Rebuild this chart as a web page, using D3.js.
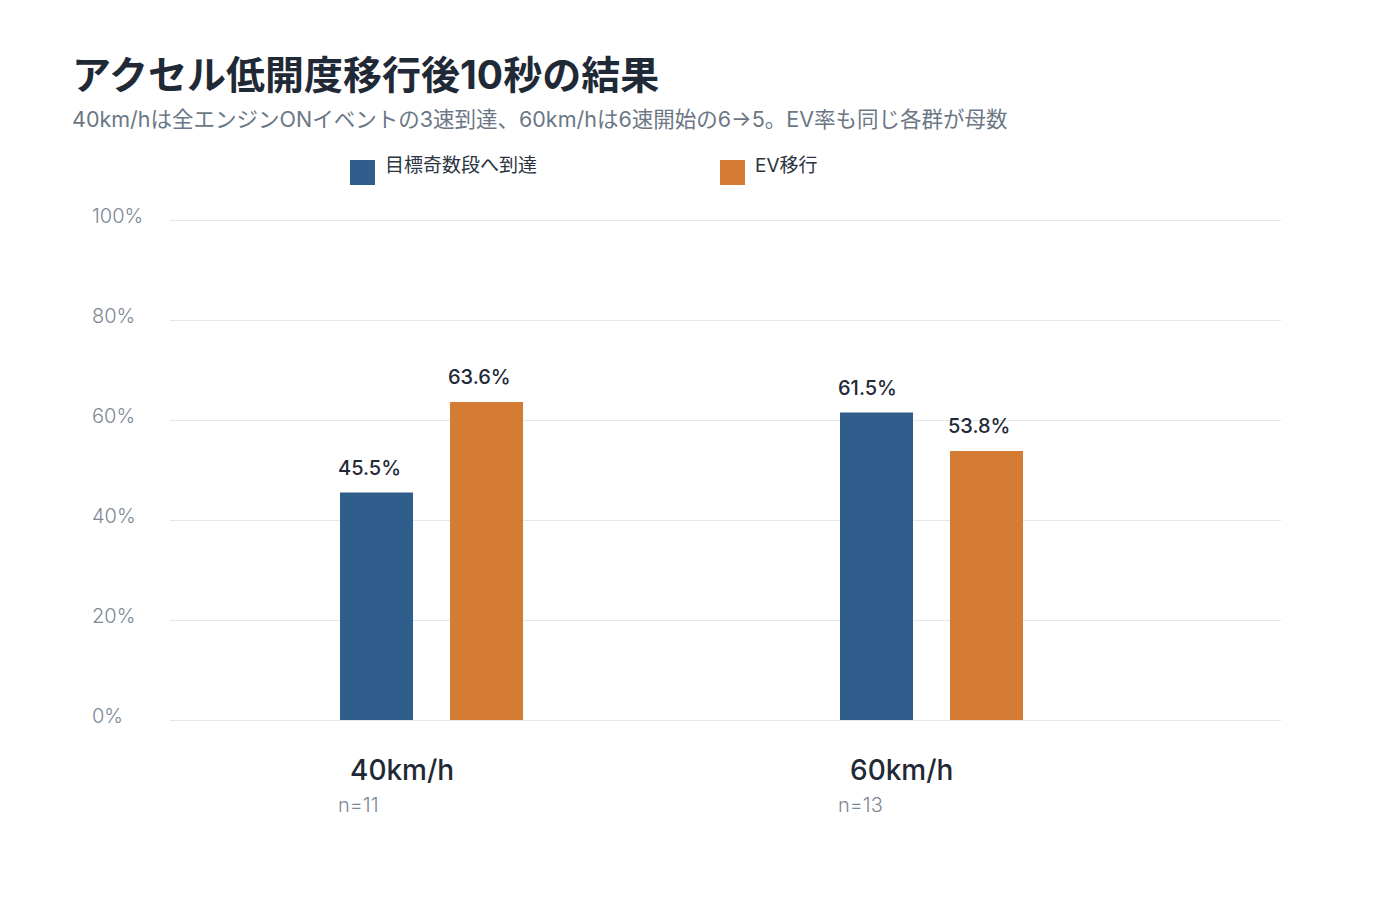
<!DOCTYPE html>
<html lang="ja">
<head>
<meta charset="utf-8">
<title>アクセル低開度移行後10秒の結果</title>
<script src="https://cdn.jsdelivr.net/npm/d3@7"></script>
<style>
  body { margin: 0; background: #fff; font-family: Inter, "Noto Sans CJK JP", sans-serif; }
  svg text { font-family: Inter, "Noto Sans CJK JP", sans-serif; }
</style>
</head>
<body>
<div id="chart"></div>
<script>
// Data
const categories = ["40km/h", "60km/h"];
const sampleSizes = ["n=11", "n=13"];
const seriesNames = ["目標奇数段へ到達", "EV移行"];
const reachValues = [45.5, 61.5];
const evValues = [63.6, 53.8];
const yTicks = [0, 20, 40, 60, 80, 100];

const TITLE = "アクセル低開度移行後10秒の結果";
const SUBTITLE = "40km/hは全エンジンONイベントの3速到達、60km/hは6速開始の6→5。EV率も同じ各群が母数";

const colors = ["#2f5e8c", "#d47b34"];

const width = 1400, height = 900;
const plot = {left: 170, right: 1281, top: 220, bottom: 720};

const svg = d3.select("#chart")
  .append("svg")
  .attr("width", width)
  .attr("height", height);

// title + subtitle
svg.append("text")
  .attr("x", 72).attr("y", 89)
  .attr("font-size", 39).attr("font-weight", 700)
  .attr("fill", "#1f2a36")
  .text(TITLE);

svg.append("text")
  .attr("x", 72).attr("y", 127)
  .attr("font-size", 21.5)
  .attr("fill", "#6b7785")
  .text(SUBTITLE);

// legend
const legendX = [350, 720];
seriesNames.forEach((name, i) => {
  svg.append("rect")
    .attr("x", legendX[i]).attr("y", 160)
    .attr("width", 25).attr("height", 25)
    .attr("fill", colors[i]);
  svg.append("text")
    .attr("x", legendX[i] + 35).attr("y", 167)
    .attr("dominant-baseline", "middle")
    .attr("font-size", 19)
    .attr("fill", "#2b3440")
    .text(name);
});

// scales
const y = d3.scaleLinear()
  .domain([0, 100])
  .range([plot.bottom, plot.top]);

const x0 = d3.scaleBand()
  .domain(categories)
  .range([181.5, 1181.5])
  .paddingInner(0)
  .paddingOuter(0);

const x1 = d3.scaleBand()
  .domain([0, 1])
  .range([x0.bandwidth() / 2 - 91.5, x0.bandwidth() / 2 + 91.5])
  .paddingInner(0.336);

// grid lines
const grid = svg.append("g")
  .call(d3.axisLeft(y)
    .tickValues(yTicks)
    .tickSize(-(plot.right - plot.left))
    .tickFormat(""))
  .attr("transform", `translate(${plot.left},0)`);
grid.select(".domain").remove();
grid.selectAll(".tick line").attr("stroke", "#e3e6ea").attr("stroke-width", 1);

// y tick labels
svg.append("g")
  .selectAll("text")
  .data(yTicks)
  .join("text")
  .attr("x", 92)
  .attr("y", d => y(d) - 2)
  .attr("dominant-baseline", "middle")
  .attr("font-size", 20)
  .attr("font-weight", 300)
  .attr("fill", "#7d8894")
  .text(d => d + "%");

// bars
const rows = categories.map((c, i) => ({cat: c, vals: [reachValues[i], evValues[i]]}));

const groups = svg.append("g")
  .selectAll("g")
  .data(rows)
  .join("g")
  .attr("transform", d => `translate(${x0(d.cat)},0)`);

groups.selectAll("rect")
  .data(d => d.vals.map((v, k) => ({k, v})))
  .join("rect")
  .attr("x", d => x1(d.k))
  .attr("y", d => y(d.v))
  .attr("width", x1.bandwidth())
  .attr("height", d => y(0) - y(d.v))
  .attr("fill", d => colors[d.k]);

// value labels sit left-aligned just off the bar's left edge
groups.selectAll("text.value")
  .data(d => d.vals.map((v, k) => ({k, v})))
  .join("text")
  .attr("class", "value")
  .attr("x", d => x1(d.k) - 2)
  .attr("y", d => y(d.v) - 18)
  .attr("font-size", 20)
  .attr("font-weight", 500)
  .attr("fill", "#1f2a36")
  .text(d => d.v.toFixed(1) + "%");

// category labels
groups.append("text")
  .attr("x", x1(0) + 10)
  .attr("y", 780)
  .attr("font-size", 28)
  .attr("font-weight", 500)
  .attr("fill", "#1f2a36")
  .text(d => d.cat);

groups.append("text")
  .attr("x", x1(0) - 2)
  .attr("y", 812)
  .attr("font-size", 20)
  .attr("font-weight", 300)
  .attr("fill", "#7d8894")
  .text((d, i) => sampleSizes[i]);
</script>
</body>
</html>
